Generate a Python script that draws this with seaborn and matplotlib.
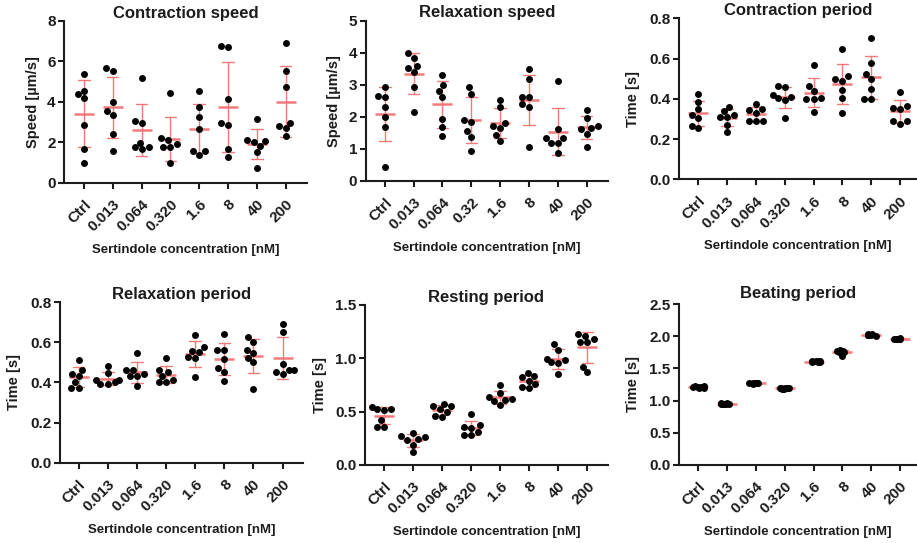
import numpy as np
import pandas as pd
import matplotlib
matplotlib.use("Agg")
import matplotlib.pyplot as plt
import seaborn as sns

sns.set_theme(style="ticks")
plt.rcParams["font.family"] = ["Liberation Sans", "DejaVu Sans"]
plt.rcParams["font.weight"] = "bold"
plt.rcParams["axes.labelweight"] = "bold"
plt.rcParams["axes.titleweight"] = "bold"

# ---------------- data ----------------
categories = ["Ctrl", "0.013", "0.064", "0.320", "1.6", "8", "40", "200"]
categories_relax_speed = ["Ctrl", "0.013", "0.064", "0.32", "1.6", "8", "40", "200"]

contraction_speed = [
    [5.37, 4.38, 4.54, 4.18, 2.85, 1.65, 0.95],
    [5.65, 5.51, 4.00, 3.56, 3.34, 2.39, 1.58],
    [5.19, 2.93, 3.06, 1.98, 1.65, 1.74, 1.74],
    [4.44, 2.19, 1.91, 2.10, 1.78, 1.78, 0.99],
    [4.54, 3.75, 3.26, 2.63, 1.37, 1.58, 1.58],
    [6.75, 6.68, 4.12, 2.85, 2.96, 1.66, 1.28],
    [3.15, 2.10, 2.05, 1.80, 2.00, 1.50, 0.72],
    [6.91, 5.53, 4.74, 2.96, 2.68, 2.80, 2.30],
]
relaxation_speed = [
    [2.92, 2.61, 2.65, 2.32, 1.99, 1.67, 0.45],
    [4.00, 3.85, 3.59, 3.54, 3.40, 2.92, 2.14],
    [3.31, 2.82, 2.99, 2.63, 1.94, 1.67, 1.39],
    [2.93, 2.72, 1.90, 1.83, 1.55, 1.38, 0.95],
    [2.54, 2.31, 1.81, 1.66, 1.70, 1.26, 1.43],
    [3.48, 3.17, 2.62, 2.62, 2.39, 2.31, 1.05],
    [3.12, 1.63, 1.35, 1.35, 1.20, 1.20, 0.88],
    [2.23, 1.95, 1.70, 1.65, 1.62, 1.48, 1.06],
]
contraction_period = [
    [0.422, 0.386, 0.348, 0.320, 0.303, 0.267, 0.253],
    [0.360, 0.340, 0.320, 0.310, 0.310, 0.270, 0.235],
    [0.375, 0.350, 0.345, 0.330, 0.290, 0.290, 0.290],
    [0.464, 0.457, 0.419, 0.402, 0.410, 0.394, 0.303],
    [0.570, 0.465, 0.440, 0.405, 0.400, 0.400, 0.335],
    [0.649, 0.513, 0.497, 0.490, 0.444, 0.402, 0.330],
    [0.700, 0.576, 0.523, 0.498, 0.447, 0.400, 0.400],
    [0.435, 0.365, 0.355, 0.350, 0.290, 0.290, 0.275],
]
relaxation_period = [
    [0.510, 0.460, 0.440, 0.430, 0.400, 0.370, 0.370],
    [0.480, 0.445, 0.410, 0.410, 0.400, 0.390, 0.390],
    [0.545, 0.460, 0.460, 0.440, 0.430, 0.430, 0.380],
    [0.520, 0.460, 0.450, 0.430, 0.410, 0.400, 0.400],
    [0.635, 0.575, 0.555, 0.550, 0.525, 0.520, 0.425],
    [0.643, 0.560, 0.560, 0.515, 0.470, 0.450, 0.405],
    [0.625, 0.600, 0.560, 0.545, 0.520, 0.500, 0.365],
    [0.690, 0.650, 0.490, 0.460, 0.460, 0.440, 0.450],
]
resting_period = [
    [0.54, 0.52, 0.52, 0.51, 0.42, 0.36, 0.36],
    [0.30, 0.27, 0.26, 0.24, 0.23, 0.19, 0.12],
    [0.57, 0.55, 0.55, 0.52, 0.50, 0.46, 0.45],
    [0.48, 0.37, 0.36, 0.35, 0.31, 0.28, 0.28],
    [0.75, 0.67, 0.64, 0.62, 0.61, 0.60, 0.56],
    [0.86, 0.83, 0.82, 0.79, 0.76, 0.73, 0.72],
    [1.13, 1.08, 0.99, 0.98, 0.96, 0.95, 0.85],
    [1.23, 1.21, 1.18, 1.15, 1.15, 0.92, 0.87],
]
beating_period = [
    [1.20, 1.21, 1.22, 1.21, 1.20, 1.22, 1.21],
    [0.95, 0.96, 0.94, 0.95, 0.96, 0.95, 0.94],
    [1.27, 1.28, 1.27, 1.28, 1.26, 1.27, 1.28],
    [1.19, 1.18, 1.19, 1.20, 1.19, 1.18, 1.19],
    [1.60, 1.61, 1.60, 1.62, 1.61, 1.60, 1.61],
    [1.77, 1.76, 1.77, 1.78, 1.76, 1.77, 1.70],
    [2.02, 2.03, 2.02, 2.01, 2.03, 2.02, 2.02],
    [1.96, 1.95, 1.96, 1.97, 1.95, 1.96, 1.96],
]

titles = ["Contraction speed", "Relaxation speed", "Contraction period",
          "Relaxation period", "Resting period", "Beating period"]
ylabels = ["Speed [µm/s]", "Speed [µm/s]", "Time [s]", "Time [s]", "Time [s]", "Time [s]"]
xlabel = "Sertindole concentration [nM]"
yticks_list = [
    [0, 2, 4, 6, 8],
    [0, 1, 2, 3, 4, 5],
    [0.0, 0.2, 0.4, 0.6, 0.8],
    [0.0, 0.2, 0.4, 0.6, 0.8],
    [0.0, 0.5, 1.0, 1.5],
    [0.0, 0.5, 1.0, 1.5, 2.0, 2.5],
]
ytick_fmt = ["{:.0f}", "{:.0f}", "{:.1f}", "{:.1f}", "{:.1f}", "{:.1f}"]

# ---------------- layout (pixels) ----------------
W, H = 917, 543
# left, top, right, bottom, xlim-left, xlim-right, ylabel offset, title pad
rects = [
    (64, 20.7, 307, 182.7, -0.69, 7.74, 24, 0),
    (365.7, 20.7, 608, 181, -0.66, 7.74, 25, 2.5),
    (679, 18.3, 917, 179.3, -0.67, 7.59, 39, 0),
    (60, 302, 303, 462.7, -0.64, 7.70, 39, 2),
    (365, 304.7, 608, 465, -0.65, 7.71, 38, 0),
    (679, 304, 917, 465, -0.67, 7.59, 39, 4),
]

RED = "#f27a7a"
INK = "#1c1c1c"

fig = plt.figure(figsize=(W / 100, H / 100), dpi=100)
np.random.seed(3)

datasets = [contraction_speed, relaxation_speed, contraction_period,
            relaxation_period, resting_period, beating_period]

for i, values in enumerate(datasets):
    l, t, r, b, x0, x1, yoff, tpad = rects[i]
    ax = fig.add_axes([l / W, 1 - b / H, (r - l) / W, (b - t) / H])
    cats = categories_relax_speed if i == 1 else categories
    df = pd.DataFrame({
        "conc": np.repeat(cats, [len(v) for v in values]),
        "val": np.concatenate(values),
    })
    sns.pointplot(data=df, x="conc", y="val", order=cats, errorbar="sd",
                  capsize=0.4, color=RED, linestyle="none", marker="_",
                  markersize=14, markeredgewidth=1.8,
                  err_kws={"linewidth": 1.0}, ax=ax)
    if i == 5:
        sns.stripplot(data=df, x="conc", y="val", order=cats, color="black",
                      size=5, jitter=0.24, linewidth=0, ax=ax, zorder=4)
    else:
        sns.swarmplot(data=df, x="conc", y="val", order=cats, color="black",
                      size=5, linewidth=0, ax=ax, zorder=4)

    yt = yticks_list[i]
    ax.set_ylim(yt[0], yt[-1])
    ax.set_yticks(yt)
    ax.set_yticklabels([ytick_fmt[i].format(v) for v in yt])
    ax.set_xlim(x0, x1)
    for s in ["top", "right"]:
        ax.spines[s].set_visible(False)
    for s in ["left", "bottom"]:
        ax.spines[s].set_linewidth(1.5)
        ax.spines[s].set_color(INK)
    ax.tick_params(axis="both", length=4, width=1.5, color=INK,
                   labelsize=11, labelcolor=INK, pad=2)
    ax.tick_params(axis="x", pad=6.5)
    for lab in ax.get_xticklabels():
        lab.set_rotation(45)
        lab.set_ha("right")
        lab.set_va("top")
        lab.set_rotation_mode("anchor")
        lab.set_fontweight("bold")
    for lab in ax.get_yticklabels():
        lab.set_fontweight("bold")

    ax.set_title(titles[i], fontsize=12, fontweight="bold", color=INK, pad=tpad)
    ax.set_ylabel(ylabels[i], fontsize=10.5, fontweight="bold", color=INK)
    ax.yaxis.set_label_coords(-yoff / (r - l), 0.5)
    ax.set_xlabel(xlabel, fontsize=9.5, fontweight="bold", color=INK)
    ax.xaxis.set_label_coords(0.5, -61 / (b - t))

fig.savefig("out.png", dpi=100)
